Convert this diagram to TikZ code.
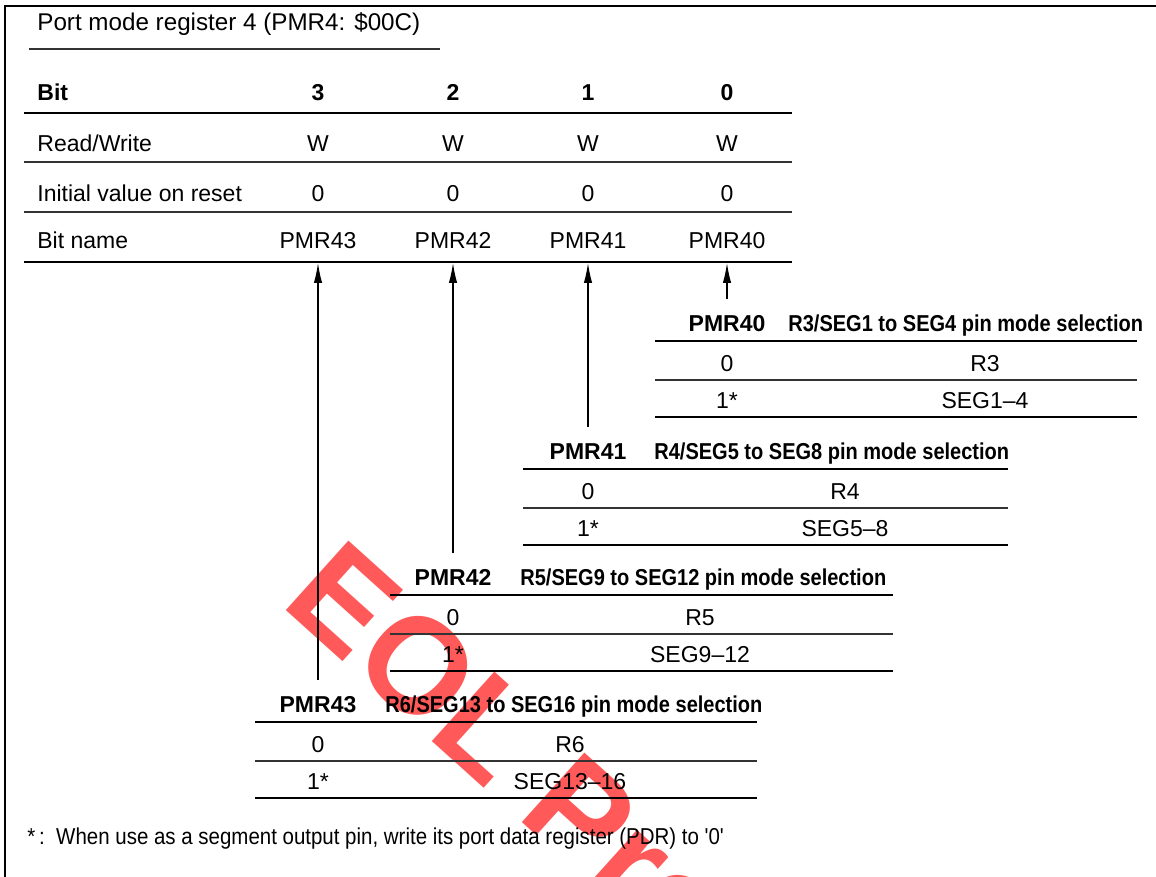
\documentclass[tikz,border=0pt]{standalone}
\usepackage{fontspec}
\setmainfont{Liberation Sans}
\newfontfamily\narrowfont[FakeStretch=0.87]{Liberation Sans}
\newfontfamily\fnfont[FakeStretch=0.89]{Liberation Sans}
\usetikzlibrary{arrows.meta}
\begin{document}
\begin{tikzpicture}[x=0.5pt,y=-0.5pt,
  txt/.style={inner sep=0pt,text height=8.2pt,text depth=0pt,font=\fontsize{11.5}{13}\selectfont},
  btxt/.style={txt,font=\fontsize{11.5}{13}\selectfont\bfseries},
  hdr/.style={txt,anchor=west,font=\fontsize{11.5}{13}\selectfont\narrowfont\bfseries},
  thin/.style={line width=0.7pt,black!80},
  thick/.style={line width=1.4pt},
  arr/.style={line width=0.6pt,-{Latex[length=10pt,width=4.2pt]},shorten <=7.5pt}
]
\useasboundingbox (0,0) rectangle (1156,877);
% watermark
\node[rotate=-42,anchor=west,inner sep=0pt,text=red!65,font=\fontsize{68}{68}\selectfont\bfseries] (wm) at (312,568) {EOL Products};
% frame
\draw[line width=1.2pt] (5,877) -- (5,6) -- (1156,6);
% title
\node[txt,anchor=west,font=\fontsize{12.1}{14}\selectfont] (title) at (37,22) {Port mode register 4 (PMR4: \$00C)};
\draw[thin] (29,49) -- (440,49);
% main table
\node[btxt,anchor=west] (lbit) at (37,92) {Bit};
\node[txt,anchor=west] (lrw) at (37,143) {Read/Write};
\node[txt,anchor=west] (linit) at (37,193) {Initial value on reset};
\node[txt,anchor=west] (lname) at (37,240) {Bit name};
\draw[thick] (24,113) -- (792,113);
\draw[thin] (24,162) -- (792,162);
\draw[thin] (24,212) -- (792,212);
\draw[thick] (24,262) -- (792,262);
\node[btxt] (bit3) at (318,92) {3};
\node[btxt] (bit2) at (453,92) {2};
\node[btxt] (bit1) at (588,92) {1};
\node[btxt] (bit0) at (727,92) {0};
\node[txt] (rw3) at (318,143) {W};
\node[txt] (rw2) at (453,143) {W};
\node[txt] (rw1) at (588,143) {W};
\node[txt] (rw0) at (727,143) {W};
\node[txt] (iv3) at (318,193) {0};
\node[txt] (iv2) at (453,193) {0};
\node[txt] (iv1) at (588,193) {0};
\node[txt] (iv0) at (727,193) {0};
\node[txt] (bn3) at (318,240) {PMR43};
\node[txt] (bn2) at (453,240) {PMR42};
\node[txt] (bn1) at (588,240) {PMR41};
\node[txt] (bn0) at (727,240) {PMR40};
\coordinate (t3) at (318,263);
\coordinate (t2) at (453,263);
\coordinate (t1) at (588,263);
\coordinate (t0) at (727,263);
% PMR40 table
\node[btxt] (h0) at (727,323) {PMR40};
\node[hdr] (d0) at (788,323) {R3/SEG1 to SEG4 pin mode selection};
\draw[thick] (655,341) -- (1137,341);
\node[txt] (a0) at (727,363) {0};
\node[txt] (v0) at (985,363) {R3};
\draw[thin] (655,380) -- (1137,380);
\node[txt] (c0) at (727,400) {1*};
\node[txt] (w0) at (985,400) {SEG1--4};
\draw[thick] (655,417) -- (1137,417);
% PMR41 table
\node[btxt] (h1) at (588,451) {PMR41};
\node[hdr] (d1) at (654,451) {R4/SEG5 to SEG8 pin mode selection};
\draw[thick] (523,469) -- (1008,469);
\node[txt] (a1) at (588,491) {0};
\node[txt] (v1) at (845,491) {R4};
\draw[thin] (523,508) -- (1008,508);
\node[txt] (c1) at (588,528) {1*};
\node[txt] (w1) at (845,528) {SEG5--8};
\draw[thick] (523,545) -- (1008,545);
% PMR42 table
\node[btxt] (h2) at (453,577) {PMR42};
\node[hdr] (d2) at (520,577) {R5/SEG9 to SEG12 pin mode selection};
\draw[thick] (390,595) -- (893,595);
\node[txt] (a2) at (453,617) {0};
\node[txt] (v2) at (700,617) {R5};
\draw[thin] (390,634) -- (893,634);
\node[txt] (c2) at (453,654) {1*};
\node[txt] (w2) at (700,654) {SEG9--12};
\draw[thick] (390,671) -- (893,671);
% PMR43 table
\node[btxt] (h3) at (318,704) {PMR43};
\node[hdr] (d3) at (385,704) {R6/SEG13 to SEG16 pin mode selection};
\draw[thick] (255,722) -- (757,722);
\node[txt] (a3) at (318,744) {0};
\node[txt] (v3) at (570,744) {R6};
\draw[thin] (255,761) -- (757,761);
\node[txt] (c3) at (318,781) {1*};
\node[txt] (w3) at (570,781) {SEG13--16};
\draw[thick] (255,798) -- (757,798);
% arrows
\draw[arr] (h0.north) -- (t0);
\draw[arr] (h1.north) -- (t1);
\draw[arr] (h2.north) -- (t2);
\draw[arr] (h3.north) -- (t3);
% footnote
\node[txt,anchor=west,font=\fontsize{11.5}{13}\selectfont\fnfont] (fn) at (27,836) {*\,:\ \ When use as a segment output pin, write its port data register (PDR) to '0'};
\end{tikzpicture}
\end{document}
